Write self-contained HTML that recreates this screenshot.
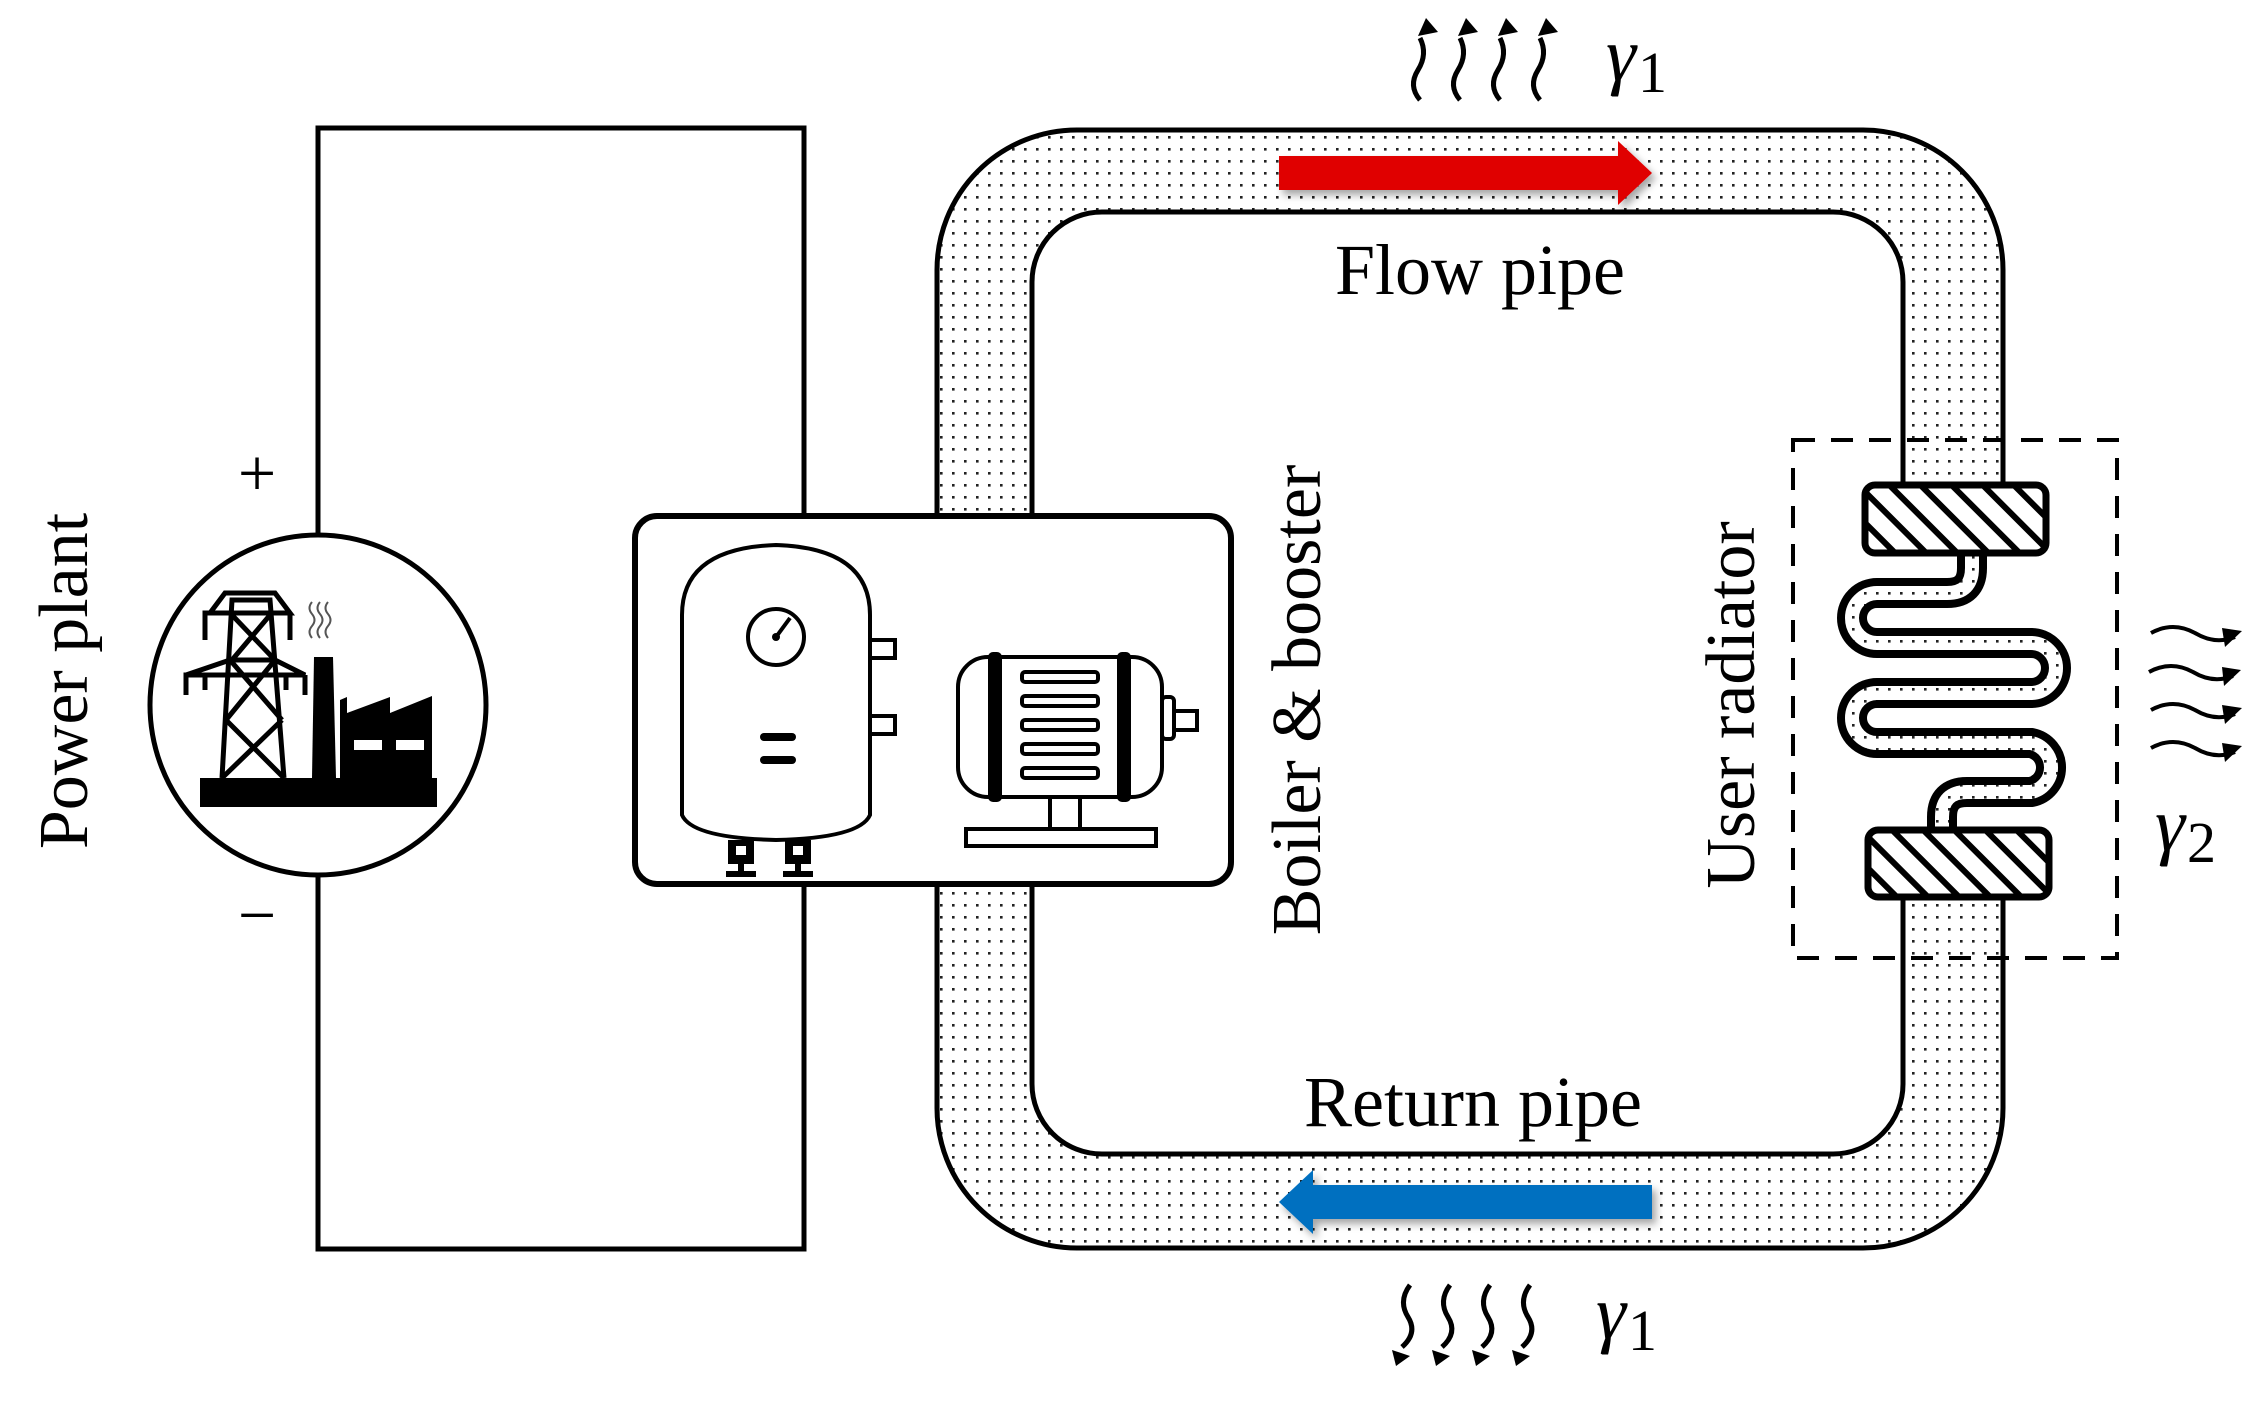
<!DOCTYPE html>
<html><head><meta charset="utf-8"><style>
html,body{margin:0;padding:0;background:#fff;}
svg{display:block;}
text{font-family:"Liberation Serif",serif;fill:#000;}
</style></head><body>
<svg width="2262" height="1415" viewBox="0 0 2262 1415" xmlns="http://www.w3.org/2000/svg">
<defs>
<pattern id="dots" width="12" height="12" patternUnits="userSpaceOnUse">
<rect width="12" height="12" fill="#fff"/>
<rect x="4" y="4" width="2.6" height="2.6" fill="#222"/>
</pattern>
<pattern id="hatch" width="22" height="22" patternUnits="userSpaceOnUse" patternTransform="rotate(-45)">
<rect width="22" height="22" fill="#fff"/>
<rect x="0" y="0" width="6" height="22" fill="#000"/>
</pattern>
<filter id="sh" x="-10%" y="-50%" width="120%" height="200%"><feDropShadow dx="4" dy="5" stdDeviation="4" flood-color="#000" flood-opacity="0.35"/></filter>
</defs>

<rect x="318" y="128" width="486" height="1121" fill="none" stroke="#000" stroke-width="5"/>

<rect x="937" y="130" width="1066" height="1118" rx="140" ry="140" fill="url(#dots)" stroke="#000" stroke-width="5"/>
<rect x="1032" y="212" width="871" height="942" rx="70" ry="70" fill="#fff" stroke="#000" stroke-width="5"/>

<path d="M1279 156 H1618 V141 L1652 173 L1618 205 V190 H1279 Z" fill="#e00000" filter="url(#sh)"/>
<path d="M1652 1185 H1313 V1170 L1279 1202 L1313 1234 V1219 H1652 Z" fill="#0070c0" filter="url(#sh)"/>

<ellipse cx="318" cy="705" rx="168" ry="170" fill="#fff" stroke="#000" stroke-width="5"/>
<rect x="200" y="778" width="237" height="29" fill="#000"/>
<g stroke="#000" stroke-width="5" fill="none">
<path d="M222 778 L232 600 L270 600 L284 778"/>
<path d="M210 613 L225 593 L275 593 L290 613 H205 V640 M290 613 V640"/>
<path d="M186 675 L230 660 L275 660 L305 675 H186 V695 M305 675 V695 M205 675 V690 M286 675 V690"/>
<path d="M232 615 L275 660 M270 615 L232 660 M230 660 L282 720 M275 660 L226 720 M226 720 L284 778 M282 720 L222 778"/>
</g>
<path d="M312 778 L314 657 L333 657 L336 778 Z" fill="#000"/>
<path d="M340 778 V700 L347 697 V713 L390 697 V713 L432 696 V778 Z" fill="#000"/>
<rect x="354" y="740" width="28" height="10" fill="#fff"/>
<rect x="396" y="740" width="28" height="10" fill="#fff"/>
<g stroke="#555" stroke-width="2" fill="none">
<path d="M312 602 q-5 6 0 12 q5 6 0 12 q-5 6 0 12"/>
<path d="M320 602 q-5 6 0 12 q5 6 0 12 q-5 6 0 12"/>
<path d="M328 602 q-5 6 0 12 q5 6 0 12 q-5 6 0 12"/>
</g>

<text x="257" y="496" font-size="68" text-anchor="middle">+</text>
<text x="257" y="938" font-size="68" text-anchor="middle">−</text>
<text transform="translate(87 681) rotate(-90)" font-size="70" text-anchor="middle">Power plant</text>

<rect x="635" y="516" width="596" height="368" rx="22" ry="22" fill="#fff" stroke="#000" stroke-width="6"/>
<g stroke="#000" stroke-width="4" fill="#fff">
<path d="M682 815 V615 Q682 548 776 545 Q870 548 870 615 V815 Q860 838 776 840 Q692 838 682 815 Z"/>
<circle cx="776" cy="637" r="28"/>
<rect x="870" y="640" width="25" height="18"/>
<rect x="870" y="716" width="25" height="18"/>
<rect x="958" y="657" width="204" height="140" rx="30"/>
<rect x="1162" y="697" width="12" height="42" rx="4"/>
<rect x="1174" y="711" width="23" height="19"/>
<rect x="1050" y="797" width="30" height="32"/>
<rect x="966" y="829" width="190" height="17"/>
<rect x="1022" y="672" width="76" height="10" rx="3"/>
<rect x="1022" y="696" width="76" height="10" rx="3"/>
<rect x="1022" y="720" width="76" height="10" rx="3"/>
<rect x="1022" y="744" width="76" height="10" rx="3"/>
<rect x="1022" y="768" width="76" height="10" rx="3"/>
</g>
<path d="M776 637 L790 618" stroke="#000" stroke-width="4"/>
<circle cx="776" cy="637" r="4" fill="#000"/>
<rect x="760" y="733" width="36" height="8" rx="4" fill="#000"/>
<rect x="760" y="756" width="36" height="8" rx="4" fill="#000"/>
<rect x="988" y="652" width="14" height="150" rx="5" fill="#000"/>
<rect x="1117" y="652" width="14" height="150" rx="5" fill="#000"/>
<g fill="#000">
<rect x="728" y="840" width="26" height="24"/><rect x="785" y="840" width="26" height="24"/>
<rect x="738" y="858" width="6" height="14"/><rect x="795" y="858" width="6" height="14"/>
<rect x="726" y="871" width="30" height="6"/><rect x="783" y="871" width="30" height="6"/>
</g>
<rect x="736" y="846" width="10" height="9" fill="#fff"/><rect x="793" y="846" width="10" height="9" fill="#fff"/>

<text transform="translate(1320 700) rotate(-90)" font-size="70" text-anchor="middle">Boiler &amp; booster</text>

<text x="1480" y="294" font-size="72" text-anchor="middle">Flow pipe</text>
<text x="1473" y="1126" font-size="72" text-anchor="middle">Return pipe</text>
<text transform="translate(1754 705) rotate(-90)" font-size="70" text-anchor="middle">User radiator</text>

<rect x="1899" y="553" width="112" height="275" fill="#fff"/>
<path d="M1972 553 V568 Q1972 593 1947 593 H1877 A25 25 0 0 0 1877 643 H2031 A25 25 0 0 1 2031 693 H1877 A25 25 0 0 0 1877 743 H2031 A25 25 0 0 1 2031 792 H1967 Q1942 792 1942 817 V830" fill="none" stroke="#000" stroke-width="30"/>
<path d="M1972 553 V568 Q1972 593 1947 593 H1877 A25 25 0 0 0 1877 643 H2031 A25 25 0 0 1 2031 693 H1877 A25 25 0 0 0 1877 743 H2031 A25 25 0 0 1 2031 792 H1967 Q1942 792 1942 817 V830" fill="none" stroke="url(#dots)" stroke-width="14"/>
<rect x="1865" y="485" width="181" height="68" rx="10" fill="url(#hatch)" stroke="#000" stroke-width="7"/>
<rect x="1868" y="830" width="181" height="67" rx="10" fill="url(#hatch)" stroke="#000" stroke-width="7"/>
<rect x="1793" y="440" width="324" height="518" fill="none" stroke="#000" stroke-width="4" stroke-dasharray="22 16"/>

<defs>
<path id="wu" d="M0 0 q-12 -14 -2 -30 q10 -16 2 -32" fill="none" stroke="#000" stroke-width="5"/>
<path id="wd" d="M0 0 q-12 16 -2 32 q10 16 -6 30" fill="none" stroke="#000" stroke-width="5"/>
<path id="wr" d="M0 0 q22 -12 44 0 q20 12 40 4" fill="none" stroke="#000" stroke-width="4"/>
</defs>
<g>
<use href="#wu" x="1420" y="100"/><use href="#wu" x="1460" y="100"/><use href="#wu" x="1500" y="100"/><use href="#wu" x="1540" y="100"/>
<path d="M1418 36 L1426 18 L1438 32 Z M1458 36 L1466 18 L1478 32 Z M1498 36 L1506 18 L1518 32 Z M1538 36 L1546 18 L1558 32 Z" fill="#000"/>
</g>
<g>
<use href="#wd" x="1410" y="1285"/><use href="#wd" x="1450" y="1285"/><use href="#wd" x="1490" y="1285"/><use href="#wd" x="1530" y="1285"/>
<path d="M1392 1350 L1396 1366 L1410 1356 Z M1432 1350 L1436 1366 L1450 1356 Z M1472 1350 L1476 1366 L1490 1356 Z M1512 1350 L1516 1366 L1530 1356 Z" fill="#000"/>
</g>
<g>
<use href="#wr" x="2151" y="633"/><use href="#wr" x="2149" y="672"/><use href="#wr" x="2151" y="710"/><use href="#wr" x="2151" y="748"/>
<path d="M2222 628 L2242 631 L2225 647 Z M2222 667 L2241 670 L2224 686 Z M2222 705 L2242 708 L2225 724 Z M2222 743 L2242 746 L2225 762 Z" fill="#000"/>
</g>

<text x="1606" y="80" font-size="76" font-style="italic">γ<tspan font-style="normal" font-size="58" dx="2" dy="12">1</tspan></text>
<text x="1596" y="1338" font-size="76" font-style="italic">γ<tspan font-style="normal" font-size="58" dx="2" dy="12">1</tspan></text>
<text x="2155" y="850" font-size="76" font-style="italic">γ<tspan font-style="normal" font-size="58" dx="2" dy="12">2</tspan></text>
</svg>
</body></html>
